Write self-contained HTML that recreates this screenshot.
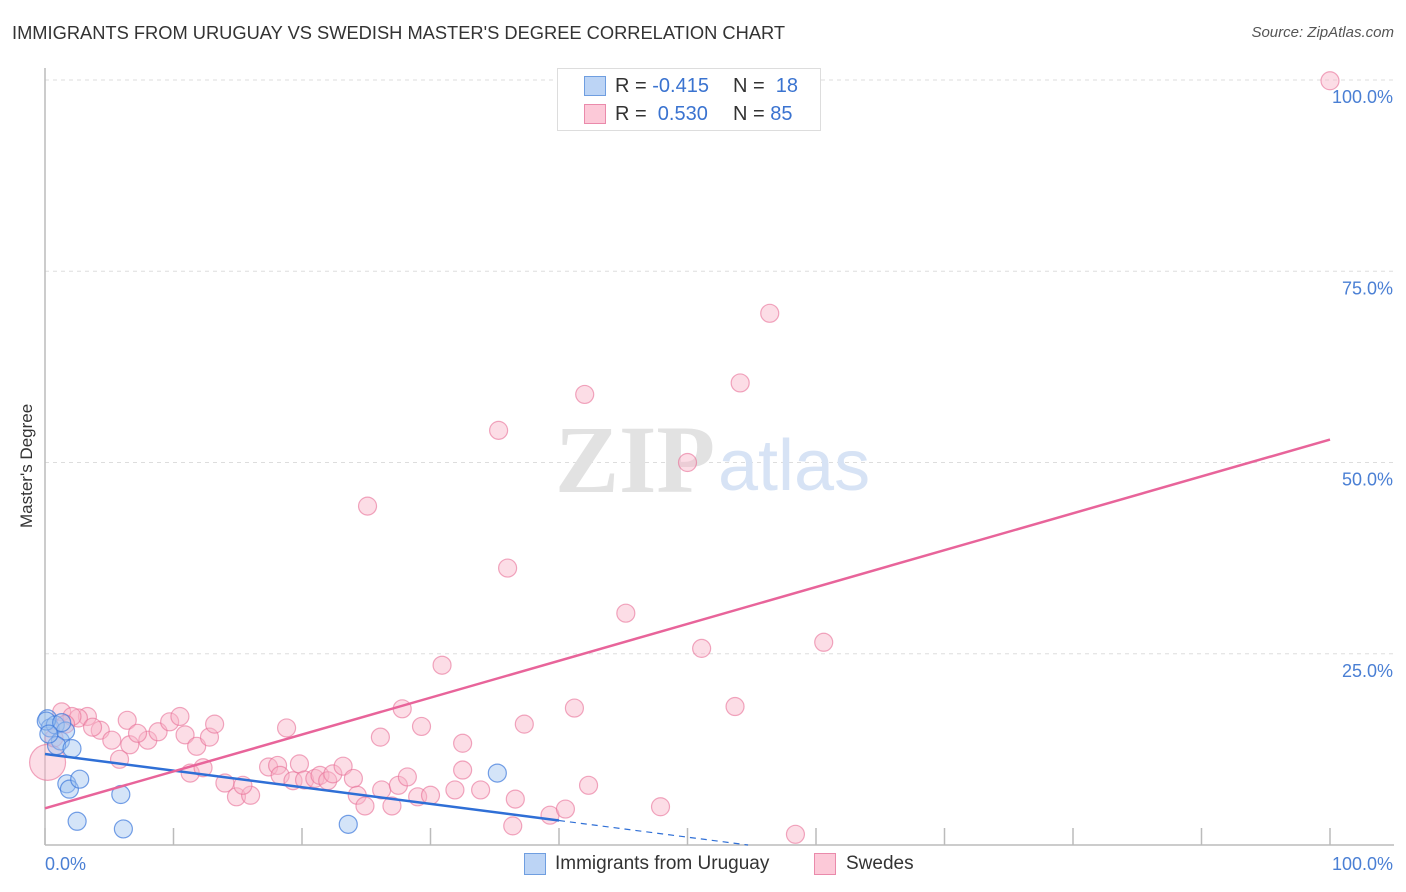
<!DOCTYPE html>
<html><head><meta charset="utf-8">
<style>
body{margin:0;background:#fff;font-family:"Liberation Sans",sans-serif;}
#wrap{position:relative;width:1406px;height:892px;overflow:hidden;}
.t{position:absolute;white-space:nowrap;}
</style></head>
<body>
<div id="wrap">
<div class="t" style="left:12px;top:22px;font-size:18.3px;color:#333;">IMMIGRANTS FROM URUGUAY VS SWEDISH MASTER'S DEGREE CORRELATION CHART</div>
<div class="t" style="right:12px;top:24px;font-size:15px;color:#555;font-style:italic;">Source: ZipAtlas.com</div>
<div class="t" style="left:17px;font-size:17px;color:#333;transform:rotate(-90deg);transform-origin:0 0;top:528px;">Master's Degree</div>
<svg id="svg" width="1406" height="892" style="position:absolute;left:0;top:0"></svg>
</div>
<script>
const xTicks=[0,10,20,30,40,50,60,70,80,90,100];
const yTicks=[25,50,75,100];
const yTickLabels=["25.0%","50.0%","75.0%","100.0%"];
const blueX=[0.2,0.4,0.8,1.2,1.6,0.9,2.1,1.7,1.9,2.7,5.9,2.5,6.1,23.6,35.2,0.1,1.3,0.3];
const blueY=[16.5,15.3,15.7,13.6,14.9,13.0,12.6,8.0,7.3,8.6,6.6,3.1,2.1,2.7,9.4,16.2,16.0,14.5];
const pinkX=[100,56.4,54.1,42.0,35.3,50.0,25.1,36.0,45.2,60.6,51.1,30.9,41.2,53.7,27.8,37.3,29.3,18.8,26.1,32.5,1.3,3.3,4.3,2.6,6.4,2.1,3.7,5.2,6.6,8.0,7.2,8.8,9.7,10.5,10.9,11.8,12.8,13.2,5.8,11.3,12.3,14.0,14.9,16.0,15.4,17.4,18.1,18.3,19.3,19.8,20.2,21.0,21.4,22.0,22.4,23.2,24.0,24.3,24.9,26.2,27.0,27.5,28.2,29.0,30.0,31.9,32.5,33.9,36.6,36.4,39.3,40.5,42.3,47.9,58.4,0.2,0.7,1.6];
const pinkY=[99.9,69.5,60.4,58.9,54.2,50.0,44.3,36.2,30.3,26.5,25.7,23.5,17.9,18.1,17.8,15.8,15.5,15.3,14.1,13.3,17.4,16.8,15.0,16.6,16.3,16.8,15.4,13.7,13.1,13.7,14.6,14.8,16.1,16.8,14.4,12.9,14.1,15.8,11.2,9.4,10.1,8.1,6.3,6.5,7.8,10.2,10.4,9.1,8.4,10.6,8.5,8.7,9.1,8.4,9.3,10.3,8.7,6.5,5.1,7.2,5.1,7.8,8.9,6.3,6.5,7.2,9.8,7.2,6.0,2.5,3.9,4.7,7.8,5.0,1.4,10.8,14.0,15.8];
const blueFit=[11.9,3.2];
const pinkFit=[4.8,53.0];

const svg=document.getElementById('svg');
const NS='http://www.w3.org/2000/svg';
const X0=45,X1=1330,Y0=845,Y100=80;
const sx=v=>X0+(X1-X0)*v/100;
const sy=v=>Y0-(Y0-Y100)*v/100;
function mk(tag,attrs){const e=document.createElementNS(NS,tag);for(const k in attrs)e.setAttribute(k,attrs[k]);svg.appendChild(e);return e;}

yTicks.forEach((t,i)=>{
 const g=mk('line',{x1:X0,x2:1394,y1:sy(t),y2:sy(t),stroke:'#ddd','stroke-dasharray':'4,4'});
 
 
 const tx=mk('text',{x:1393,y:sy(t)+23,'text-anchor':'end','font-size':18,fill:'#4a7fd4','font-family':'Liberation Sans, sans-serif'});
 tx.textContent=yTickLabels[i];
 
 
});
let a=mk('line',{x1:X0,x2:X0,y1:68,y2:Y0,stroke:'#bbb','stroke-width':1.5});


a=mk('line',{x1:X0,x2:1394,y1:Y0,y2:Y0,stroke:'#bbb','stroke-width':1.5});


xTicks.forEach(t=>{
 const l=mk('line',{x1:sx(t),x2:sx(t),y1:828,y2:Y0,stroke:'#bbb','stroke-width':1.5});
 
 
});
let xl=mk('text',{x:45,y:870,'font-size':18,fill:'#4a7fd4','font-family':'Liberation Sans, sans-serif'});xl.textContent='0.0%';


xl=mk('text',{x:1393,y:870,'text-anchor':'end','font-size':18,fill:'#4a7fd4','font-family':'Liberation Sans, sans-serif'});xl.textContent='100.0%';


let w=mk('text',{x:555,y:492,'font-size':96,fill:'#e2e2e2','font-family':'Liberation Serif, serif','font-weight':'bold'});w.textContent='ZIP';


w=mk('text',{x:718,y:490,'font-size':72,fill:'#d7e3f5','font-family':'Liberation Sans, sans-serif'});w.textContent='atlas';


pinkX.forEach((x,i)=>{
 const c=mk('circle',{cx:sx(x),cy:sy(pinkY[i]),r:(i==pinkX.length-3)?18:9,fill:'rgba(248,180,200,0.45)',stroke:'rgba(232,110,150,0.6)','stroke-width':1.2});
 
 
});
blueX.forEach((x,i)=>{
 const c=mk('circle',{cx:sx(x),cy:sy(blueY[i]),r:9,fill:'rgba(160,195,240,0.45)',stroke:'rgba(60,120,220,0.7)','stroke-width':1.2});
 
 
});
const bs=(blueFit[1]-blueFit[0])/40;
let tl=mk('line',{x1:sx(0),y1:sy(blueFit[0]),x2:sx(40),y2:sy(blueFit[1]),stroke:'#2f6fd6','stroke-width':2.5});


const xEnd=-blueFit[0]/bs;
tl=mk('line',{x1:sx(40),y1:sy(blueFit[1]),x2:sx(xEnd),y2:sy(0),stroke:'#2f6fd6','stroke-width':1.2,'stroke-dasharray':'6,5'});


tl=mk('line',{x1:sx(0),y1:sy(pinkFit[0]),x2:sx(100),y2:sy(pinkFit[1]),stroke:'#e8649a','stroke-width':2.5});


</script>
<div class="t" style="left:557px;top:68px;width:262px;height:61px;border:1px solid #ddd;background:#fff;font-size:20px;">
 <div class="t" style="left:26px;top:7px;width:20px;height:18px;background:#bcd4f5;border:1px solid #6f9ee0;"></div>
 <div class="t" style="left:57px;top:6px;color:#333;">R = <span style="color:#3a73d0">-0.415</span></div>
 <div class="t" style="left:175px;top:6px;color:#333;">N = &nbsp;<span style="color:#3a73d0">18</span></div>
 <div class="t" style="left:26px;top:35px;width:20px;height:18px;background:#fcc9d8;border:1px solid #ea8aab;"></div>
 <div class="t" style="left:57px;top:34px;color:#333;">R = &nbsp;<span style="color:#3a73d0">0.530</span></div>
 <div class="t" style="left:175px;top:34px;color:#333;">N = <span style="color:#3a73d0">85</span></div>
</div>
<div class="t" style="left:524px;top:853px;width:20px;height:20px;background:#bcd4f5;border:1px solid #6f9ee0;"></div>
<div class="t" style="left:555px;top:853px;font-size:19px;color:#333;">Immigrants from Uruguay</div>
<div class="t" style="left:814px;top:853px;width:20px;height:20px;background:#fcc9d8;border:1px solid #ea8aab;"></div>
<div class="t" style="left:846px;top:853px;font-size:19px;color:#333;">Swedes</div>
</body></html>
